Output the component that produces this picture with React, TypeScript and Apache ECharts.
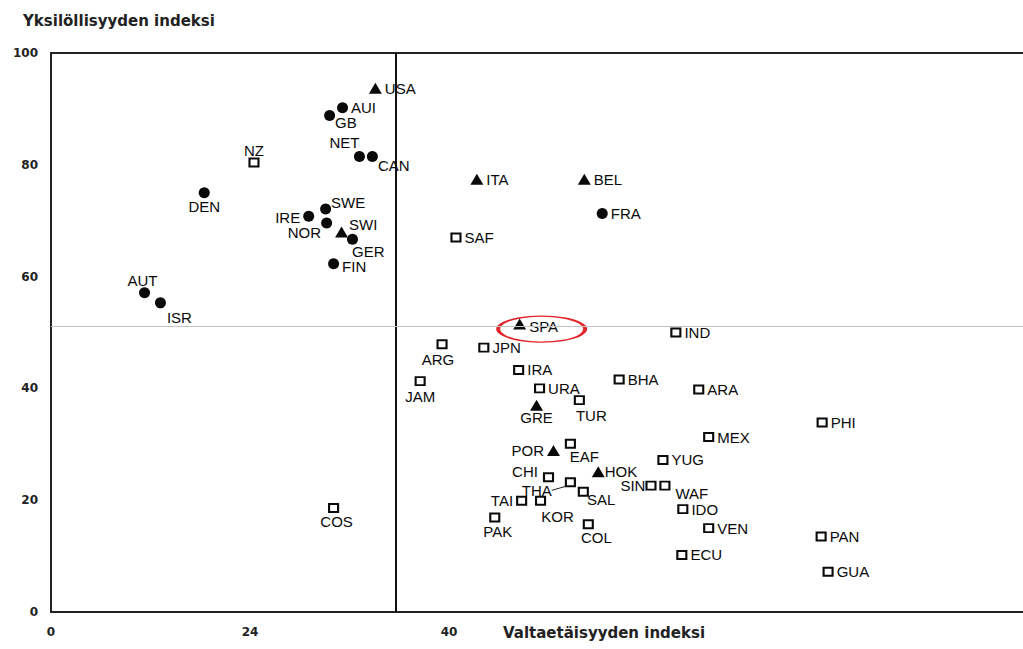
import React, { useEffect, useRef } from 'react';
import * as echarts from 'echarts';

// Circles
const circleNames = ['AUI', 'GB', 'NET', 'CAN', 'DEN', 'SWE', 'IRE', 'NOR', 'GER', 'FIN', 'AUT', 'ISR', 'FRA'];
const circlePowerDistance = [29.3, 28.0, 31.0, 32.3, 15.4, 27.6, 25.9, 27.7, 30.3, 28.4, 9.4, 11.0, 55.4];
const circleIndividualism = [90.2, 88.8, 81.5, 81.5, 75.0, 72.1, 70.8, 69.6, 66.7, 62.3, 57.1, 55.3, 71.3];

// Triangles
const triangleNames = ['USA', 'SWI', 'ITA', 'BEL', 'SPA', 'GRE', 'POR', 'HOK'];
const trianglePowerDistance = [32.6, 29.2, 42.8, 53.6, 47.1, 48.8, 50.5, 55.0];
const triangleIndividualism = [93.7, 68.0, 77.4, 77.4, 51.5, 37.0, 28.9, 25.1];

// Squares
const squareNames = ['NZ', 'SAF', 'IND', 'ARG', 'JPN', 'IRA', 'JAM', 'URA', 'BHA', 'ARA', 'TUR', 'MEX', 'EAF', 'YUG', 'CHI', 'THA', 'SAL', 'SIN', 'WAF', 'TAI', 'KOR', 'IDO', 'PAK', 'COL', 'VEN', 'ECU', 'PHI', 'PAN', 'GUA', 'COS'];
const squarePowerDistance = [20.4, 40.7, 62.8, 39.3, 43.5, 47.0, 37.1, 49.1, 57.1, 65.1, 53.1, 66.1, 52.2, 61.5, 50.0, 52.2, 53.5, 60.3, 61.7, 47.3, 49.2, 63.5, 44.6, 54.0, 66.1, 63.4, 77.5, 77.4, 78.1, 28.4];
const squareIndividualism = [80.4, 67.0, 50.0, 47.9, 47.3, 43.3, 41.3, 40.0, 41.6, 39.8, 37.9, 31.3, 30.1, 27.2, 24.1, 23.2, 21.5, 22.6, 22.6, 19.9, 19.9, 18.4, 16.9, 15.7, 15.0, 10.2, 33.9, 13.5, 7.2, 18.6];

// Axis ticks
const xTickValues = [0, 20, 40];
const xTickLabels = ['0', '24', '40'];

// Divider lines
const powerDistanceSplit = 34.6;
const individualismSplit = 51.2;
const highlightedCountry = 'SPA';

const yTitle = 'Yksilöllisyyden indeksi';
const xTitle = 'Valtaetäisyyden indeksi';

// label placement: [position, dx, dy]
const labelPlacement: Record<string, [string, number, number]> = {
  USA: ['right', 0, 0],
  GB: ['right', -3, 7],
  NET: ['top', -15, 2],
  CAN: ['right', -3, 9],
  NZ: ['top', 0, 3],
  DEN: ['bottom', 0, -2],
  SWE: ['right', -3, -6],
  IRE: ['left', 0, 1],
  NOR: ['left', 3, 10],
  SWI: ['right', -2, -7],
  GER: ['right', -9, 12],
  FIN: ['right', 0, 3],
  AUT: ['top', -2, 4],
  ISR: ['right', -2, 15],
  ARG: ['bottom', -4, 0],
  JAM: ['bottom', 0, 0],
  GRE: ['bottom', 0, -4],
  TUR: ['bottom', 12, 0],
  POR: ['left', 0, 0],
  EAF: ['bottom', 14, -3],
  CHI: ['left', -2, -6],
  THA: ['left', -10, 8],
  SAL: ['right', -5, 8],
  SIN: ['left', 3, 0],
  WAF: ['right', 2, 8],
  TAI: ['left', 0, 0],
  KOR: ['bottom', 17, 0],
  PAK: ['bottom', 3, -1],
  COL: ['bottom', 8, -2],
  COS: ['bottom', 3, -2],
  HOK: ['right', -3, 0],
  SPA: ['right', 0, 2],
};

const labelFont = {
  fontFamily: 'Liberation Sans',
  fontSize: 15,
  color: '#0a0a0a',
};

function placement(n: string): [string, number, number] {
  return labelPlacement[n] || ['right', 0, 0];
}

function buildData(names: string[], xs: number[], ys: number[]) {
  return names.map((n, i) => {
    const p = placement(n);
    const item: any = {
      name: n,
      value: [xs[i], ys[i]],
      label: { position: p[0] },
    };
    if (n === 'THA') {
      item.labelLine = { show: true, lineStyle: { color: '#222', width: 1, opacity: 1 } };
    }
    return item;
  });
}

function layoutFor(names: string[]) {
  return (params: any) => {
    const p = placement(names[params.dataIndex]);
    return { dx: p[1], dy: p[2] };
  };
}

export default function App() {
  const ref = useRef<HTMLDivElement>(null);
  useEffect(() => {
    if (!ref.current) return;
    const chart = echarts.init(ref.current, undefined, { renderer: 'svg' });
    const spaIdx = triangleNames.indexOf(highlightedCountry);
    const baseLabel = { show: true, formatter: '{b}', distance: 3, ...labelFont };
    const axisLabelStyle = {
      fontFamily: 'DejaVu Sans',
      fontWeight: 'bold' as const,
      fontSize: 12,
      color: '#222',
    };
    const option: any = {
      animation: false,
      backgroundColor: '#ffffff',
      grid: {
        left: 51,
        top: 53,
        width: 995,
        height: 559,
        show: true,
        borderColor: '#222',
        borderWidth: 2,
        outerBoundsMode: 'none',
        containLabel: false,
      },
      xAxis: {
        type: 'value',
        min: 0,
        max: 100,
        interval: 20,
        axisLine: { show: true, lineStyle: { color: '#222', width: 2 } },
        axisTick: { show: false },
        splitLine: { show: false },
        axisLabel: {
          ...axisLabelStyle,
          margin: 14,
          formatter: (v: number) => {
            const i = xTickValues.indexOf(v);
            return i >= 0 ? xTickLabels[i] : '';
          },
        },
      },
      yAxis: {
        type: 'value',
        min: 0,
        max: 100,
        interval: 20,
        axisLine: { show: true, lineStyle: { color: '#222', width: 2 } },
        axisTick: { show: false },
        splitLine: { show: false },
        axisLabel: { ...axisLabelStyle, margin: 13 },
      },
      graphic: [
        {
          type: 'text',
          left: 23,
          top: 13,
          style: {
            text: yTitle,
            fontFamily: 'DejaVu Sans',
            fontWeight: 'bold',
            fontSize: 15,
            fill: '#222',
          },
        },
        {
          type: 'text',
          left: 503,
          top: 625,
          style: {
            text: xTitle,
            fontFamily: 'DejaVu Sans',
            fontWeight: 'bold',
            fontSize: 15,
            fill: '#222',
          },
        },
      ],
      series: [
        {
          type: 'scatter',
          silent: true,
          data: [],
          markLine: {
            silent: true,
            symbol: 'none',
            label: { show: false },
            data: [
              { xAxis: powerDistanceSplit, lineStyle: { color: '#111', width: 2, type: 'solid', opacity: 1 } },
              { yAxis: individualismSplit, lineStyle: { color: '#c4c4c4', width: 1, type: 'solid', opacity: 1 } },
            ],
          },
        },
        {
          type: 'scatter',
          silent: true,
          z: 1,
          data: [[trianglePowerDistance[spaIdx], triangleIndividualism[spaIdx]]],
          symbol: 'circle',
          symbolSize: [87, 26],
          symbolOffset: [22, 5],
          itemStyle: { color: 'rgba(0,0,0,0)', borderColor: '#e3242b', borderWidth: 2.2, opacity: 1 },
          label: { show: false },
        },
        {
          type: 'scatter',
          z: 3,
          symbol: 'circle',
          symbolSize: 11,
          itemStyle: { color: '#0a0a0a', opacity: 1 },
          label: baseLabel,
          labelLayout: layoutFor(circleNames),
          data: buildData(circleNames, circlePowerDistance, circleIndividualism),
        },
        {
          type: 'scatter',
          z: 3,
          symbol: 'triangle',
          symbolSize: [13, 11],
          itemStyle: { color: '#0a0a0a', opacity: 1 },
          label: baseLabel,
          labelLayout: layoutFor(triangleNames),
          data: buildData(triangleNames, trianglePowerDistance, triangleIndividualism),
        },
        {
          type: 'scatter',
          z: 3,
          symbol: 'rect',
          symbolSize: [9, 8],
          itemStyle: { color: '#fff', borderColor: '#0a0a0a', borderWidth: 2, opacity: 1 },
          label: baseLabel,
          labelLayout: layoutFor(squareNames),
          data: buildData(squareNames, squarePowerDistance, squareIndividualism),
        },
      ],
    };
    chart.setOption(option);
    return () => chart.dispose();
  }, []);
  return (
    <div
      ref={ref}
      style={{ position: 'absolute', left: 0, top: 0, width: 1023, height: 649, background: '#fff' }}
    />
  );
}
